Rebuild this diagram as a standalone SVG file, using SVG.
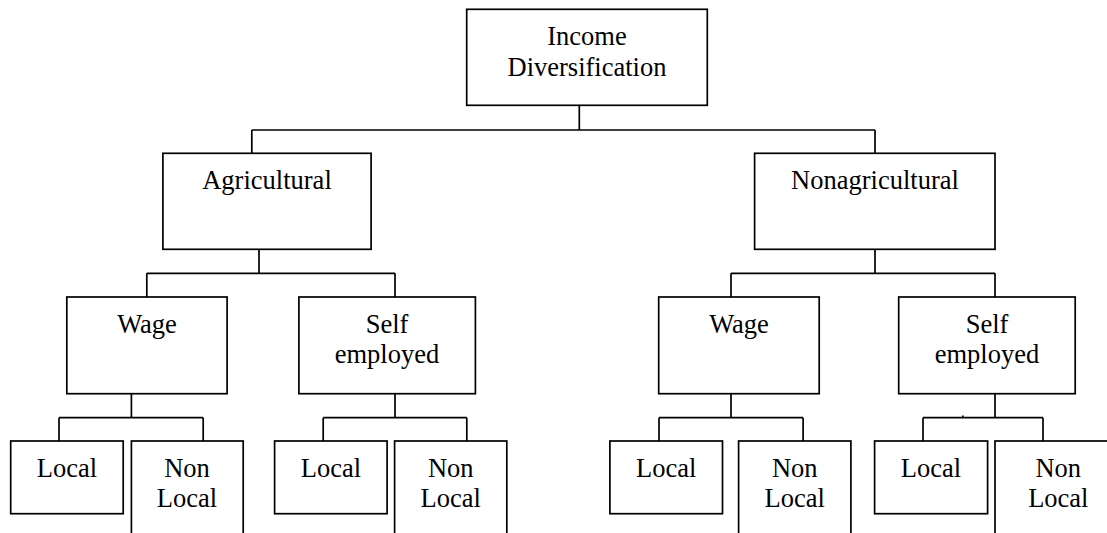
<svg xmlns="http://www.w3.org/2000/svg" width="1107" height="533" viewBox="0 0 1107 533">
<style>
rect{fill:#fff;stroke:#000;stroke-width:1.7}
.c path{fill:none;stroke:#000;stroke-width:1.7}
text{font-family:"Liberation Serif","DejaVu Serif",serif;font-size:26.5px;fill:#000;text-anchor:middle}
</style>
<rect x="0" y="0" width="1107" height="533" style="stroke:none"/>
<g class="c" id="connectors">
<path d="M579.3,105.3V130M251.8,130H875M251.8,130V153.3M875,130V153.3"/>
<path d="M259,249.3V273.3M146.8,273.3H395M146.8,273.3V297M395,273.3V297"/>
<path d="M875,249.3V273.3M731,273.3H995M731,273.3V297M995,273.3V297"/>
<path d="M131.4,393.7V417.7M59,417.7H203.2M59,417.7V441M203.2,417.7V441"/>
<path d="M395,393.7V417.7M323.2,417.7H466.8M323.2,417.7V441M466.8,417.7V441"/>
<path d="M731,393.7V417.7M659,417.7H803.1M659,417.7V441M803.1,417.7V441"/>
<path d="M995,393.7V417.7M923,417.7H1043M923,417.7V441M1043,417.7V441M962.8,415.5V417.7"/>
</g>
<g id="root"><rect x="466.7" y="9.3" width="240.6" height="96"/><text x="587" y="45">Income</text><text x="587" y="76">Diversification</text></g>
<g id="agri"><rect x="162.9" y="153.3" width="208.2" height="96"/><text x="267" y="189.3">Agricultural</text></g>
<g id="nonagri"><rect x="754.6" y="153.3" width="240.4" height="96"/><text x="875" y="189.3">Nonagricultural</text></g>
<g id="agri-wage"><rect x="66.8" y="297" width="160.3" height="96.7"/><text x="147" y="332.7">Wage</text></g>
<g id="agri-self"><rect x="298.9" y="297" width="176.5" height="96.7"/><text x="387" y="332.7">Self</text><text x="387" y="362.7">employed</text></g>
<g id="nonagri-wage"><rect x="658.7" y="297" width="160.5" height="96.7"/><text x="739" y="332.7">Wage</text></g>
<g id="nonagri-self"><rect x="898.7" y="297" width="176.5" height="96.7"/><text x="987" y="332.7">Self</text><text x="987" y="362.7">employed</text></g>
<g id="aw-local"><rect x="10.7" y="441" width="112.5" height="72.7"/><text x="67" y="476.7">Local</text></g>
<g id="aw-nonlocal"><rect x="131.4" y="441" width="111.8" height="110"/><text x="187" y="476.7">Non</text><text x="187" y="507.3">Local</text></g>
<g id="as-local"><rect x="274.6" y="441" width="112.5" height="72.7"/><text x="331" y="476.7">Local</text></g>
<g id="as-nonlocal"><rect x="394.6" y="441" width="112.2" height="110"/><text x="450.7" y="476.7">Non</text><text x="450.7" y="507.3">Local</text></g>
<g id="nw-local"><rect x="609.9" y="441" width="112.6" height="72.7"/><text x="666.2" y="476.7">Local</text></g>
<g id="nw-nonlocal"><rect x="738.6" y="441" width="112.3" height="110"/><text x="794.7" y="476.7">Non</text><text x="794.7" y="507.3">Local</text></g>
<g id="ns-local"><rect x="874.6" y="441" width="113" height="72.7"/><text x="931" y="476.7">Local</text></g>
<g id="ns-nonlocal"><rect x="995" y="441" width="127" height="110"/><text x="1058.3" y="476.7">Non</text><text x="1058.3" y="507.3">Local</text></g>
</svg>
